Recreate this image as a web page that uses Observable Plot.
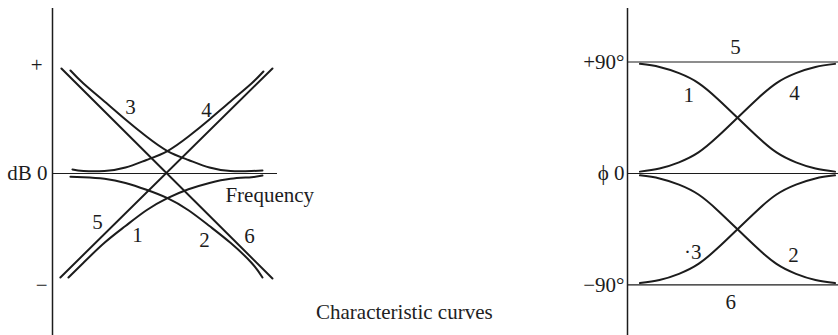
<!DOCTYPE html>
<html>
<head>
<meta charset="utf-8">
<script src="https://cdn.jsdelivr.net/npm/d3@7"></script>
<script src="https://cdn.jsdelivr.net/npm/@observablehq/plot@0.6"></script>
<style>
  body { margin: 0; background: #fff; }
  #chart { position: relative; width: 838px; height: 335px; overflow: hidden; background: #fff; }
  #chart svg { position: absolute; top: 0; }
  .caption {
    position: absolute; left: 316px; top: 302px;
    font-family: "Liberation Serif", "Times New Roman", serif;
    font-size: 21px; line-height: 21px; color: #222; white-space: nowrap;
  }
</style>
</head>
<body>
<div id="chart"></div>
<script>
// Magnitude response (dB) against log frequency, normalised so the corner sits at u = 0
const mag1U  = [-0.943, -0.8, -0.6, -0.4, -0.2, 0, 0.2, 0.4, 0.6, 0.8, 0.905];
const mag1Db = [-9.9, -8.5, -6.6, -5.0, -3.5, -2.35, -1.5, -0.9, -0.5, -0.35, -0.2];
const mag2U  = [-0.924, -0.8, -0.6, -0.4, -0.2, 0, 0.2, 0.4, 0.6, 0.8, 0.905];
const mag2Db = [-0.3, -0.35, -0.5, -0.9, -1.55, -2.35, -3.5, -5.0, -6.6, -8.5, -9.9];
const mag3U  = [-0.924, -0.8, -0.6, -0.4, -0.2, 0, 0.2, 0.4, 0.6, 0.8, 0.905];
const mag3Db = [9.81, 8.57, 6.86, 5.14, 3.52, 2.14, 1.29, 0.57, 0.24, 0.24, 0.29];
const mag4U  = [-0.905, -0.8, -0.6, -0.4, -0.2, 0, 0.2, 0.4, 0.6, 0.8, 0.914];
const mag4Db = [0.38, 0.24, 0.24, 0.57, 1.29, 2.14, 3.52, 5.14, 6.86, 8.57, 9.71];
const mag5U  = [-1.02, 1];
const mag5Db = [-9.9, 10];
const mag6U  = [-1.01, 1];
const mag6Db = [10, -10];

// Phase response (degrees) on the same normalised frequency grid
const phaseU = [-1, -0.8, -0.6, -0.4, -0.2, 0, 0.2, 0.4, 0.6, 0.8, 1];
const phase1 = [88.5, 86, 81, 73, 60, 45, 30, 17, 9, 4, 1.5];
const phase2 = [-1.5, -4, -9, -17, -30, -45, -60, -73, -81, -86, -88.5];
const phase3 = [-88.5, -86, -81, -73, -60, -45, -30, -17, -9, -4, -1.5];
const phase4 = [1.5, 4, 9, 17, 30, 45, 60, 73, 81, 86, 88.5];
const phase5 = 90;
const phase6 = -90;

// Curve numbers
const magLabels   = ["3", "4", "5", "1", "2", "6"];
const magLabelU   = [-0.352, 0.371, -0.667, -0.286, 0.352, 0.781];
const magLabelDb  = [6.29, 6.0, -4.67, -5.9, -6.38, -6.0];
const phaseLabels = ["5", "1", "4", "\u00b73", "2", "6"];
const phaseLabelU = [-0.02, -0.5, 0.585, -0.46, 0.575, -0.07];
const phaseLabelDeg = [101.7, 63, 64.6, -63.8, -66.2, -104.1];

// Axis tick labels
const magTicks = [10.29, 0, -10.67];
const magTickText = ["+", "dB 0", "\u2212"];
const phaseTicks = [90, 0, -90];
const phaseTickText = ["+90\u00b0", "\u03d5 0", "\u221290\u00b0"];

const ink = "#1c1c1c";
const font = "'Liberation Serif', 'Times New Roman', serif";
const pts = (us, vs) => us.map((u, i) => ({u, v: vs[i]}));

const magCurves = [
  pts(mag1U, mag1Db), pts(mag2U, mag2Db), pts(mag3U, mag3Db),
  pts(mag4U, mag4Db), pts(mag5U, mag5Db), pts(mag6U, mag6Db)
];
const phaseCurves = [phase1, phase2, phase3, phase4].map(p => pts(phaseU, p));

const magXmin = -1.095;
const left = Plot.plot({
  width: 320, height: 335,
  marginLeft: 52, marginRight: 43, marginTop: 8, marginBottom: 0,
  x: {domain: [magXmin, 1.048], axis: null},
  y: {domain: [-15.429, 15.714], label: null},
  style: {fontFamily: font, fontSize: "21px", color: ink, background: "transparent", overflow: "visible"},
  marks: [
    Plot.ruleY([0], {stroke: ink, strokeWidth: 1.2}),
    Plot.ruleX([magXmin], {stroke: ink, strokeWidth: 1.5}),
    ...magCurves.map(c => Plot.line(c, {x: "u", y: "v", curve: "natural", stroke: ink, strokeWidth: 2})),
    Plot.axisY([magTicks[0]], {tickSize: 0, tickPadding: 10, tickFormat: () => magTickText[0], fontSize: 21, label: null}),
    Plot.axisY(magTicks.slice(1), {tickSize: 0, tickPadding: 5, tickFormat: d => magTickText[magTicks.indexOf(d)], fontSize: 21, label: null}),
    Plot.text(magLabels, {x: (d, i) => magLabelU[i], y: (d, i) => magLabelDb[i], text: d => d, fontSize: 21, fill: ink}),
    Plot.text(["Frequency"], {x: 0.552, y: -2.1, text: d => d, textAnchor: "start", fontSize: 21, fill: ink})
  ]
});
left.style.left = "0px";

const phXmin = -1.128;
const right = Plot.plot({
  width: 278, height: 335,
  marginLeft: 67, marginRight: 0, marginTop: 8, marginBottom: 0,
  x: {domain: [phXmin, 1.036], axis: null},
  y: {domain: [-130.8, 133.2], label: null},
  style: {fontFamily: font, fontSize: "21px", color: ink, background: "transparent", overflow: "visible"},
  marks: [
    Plot.ruleY([phase5, 0, phase6], {stroke: ink, strokeWidth: 1.2}),
    Plot.ruleX([phXmin], {stroke: ink, strokeWidth: 1.5}),
    ...phaseCurves.map(c => Plot.line(c, {x: "u", y: "v", curve: "natural", stroke: ink, strokeWidth: 2})),
    Plot.axisY(phaseTicks, {tickSize: 0, tickPadding: 3, tickFormat: d => phaseTickText[phaseTicks.indexOf(d)], fontSize: 21, label: null}),
    Plot.text(phaseLabels, {x: (d, i) => phaseLabelU[i], y: (d, i) => phaseLabelDeg[i], text: d => d, fontSize: 21, fill: ink})
  ]
});
right.style.left = "560px";

const chart = document.getElementById("chart");
chart.appendChild(left);
chart.appendChild(right);
const cap = document.createElement("div");
cap.className = "caption";
cap.textContent = "Characteristic curves";
chart.appendChild(cap);
</script>
</body>
</html>
